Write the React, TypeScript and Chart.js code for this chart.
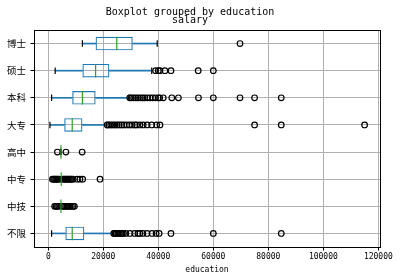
import React, { useEffect, useRef } from "react";
import { Chart, registerables } from "chart.js";

Chart.register(...registerables);

const categories = ["博士", "硕士", "本科", "大专", "高中", "中专", "中技", "不限"];
const whiskerLow = [12400, 2500, 1200, 600, 4600, 4700, 4600, 1200];
const q1 = [17200, 12400, 8700, 5800, 4600, 4700, 4600, 6200];
const median = [24900, 17200, 12400, 8700, 4600, 4700, 4600, 8700];
const q3 = [30700, 22200, 17200, 12400, 4600, 4700, 4600, 13100];
const whiskerHigh = [39600, 37600, 29400, 21200, 4600, 4700, 4600, 23600];
const outliers: number[][] = [
  [69700],
  [39000, 40000, 40600, 42400, 44600, 54500, 60000],
  [29600, 30200, 31000, 31800, 32600, 33500, 34300, 35000, 36000, 37000, 38000, 39000, 40000, 40500, 41800, 44900, 47300, 54600, 60000, 69700, 75000, 84700],
  [21400, 22000, 22700, 23400, 24200, 25000, 25800, 26700, 27500, 28500, 29500, 30500, 31500, 32100, 33300, 34500, 35900, 37600, 39400, 40600, 75000, 84700, 115000],
  [3300, 6400, 12300],
  [1500, 1900, 2300, 2700, 3100, 3500, 3900, 5300, 5700, 6100, 6500, 6900, 7300, 7700, 8100, 8500, 9000, 10500, 11500, 12500, 18800],
  [2300, 2800, 3300, 3800, 5300, 5800, 6300, 6800, 7300, 7800, 8400, 9000, 9500],
  [23800, 24300, 24800, 25300, 25800, 26300, 26800, 27300, 28200, 29700, 31400, 32600, 33300, 34400, 35900, 37700, 39200, 40300, 44600, 60000, 84700],
];
const xTicks = [0, 20000, 40000, 60000, 80000, 100000, 120000];
const xMin = -5200;
const xMax = 120600;

const MONO = '"DejaVu Sans Mono", monospace';
const CJK = '"Noto Sans CJK SC", sans-serif';
const BLUE = "#1f77b4";
const GREEN = "#2ca02c";
const GRID = "#b0b0b0";

const frame = {
  id: "frame",
  afterDatasetsDraw(chart: any) {
    const { ctx, chartArea } = chart;
    ctx.save();
    ctx.strokeStyle = "#000";
    ctx.lineWidth = 1;
    ctx.strokeRect(
      Math.round(chartArea.left) + 0.5,
      Math.round(chartArea.top) + 0.5,
      Math.round(chartArea.right - chartArea.left),
      Math.round(chartArea.bottom - chartArea.top)
    );
    ctx.restore();
  },
};

export default function App() {
  const ref = useRef<HTMLCanvasElement>(null);

  useEffect(() => {
    if (!ref.current) return;
    const fliers: { x: number; y: string }[] = [];
    outliers.forEach((arr, i) => arr.forEach((v) => fliers.push({ x: v, y: categories[i] })));

    const chart = new Chart(ref.current, {
      type: "bar",
      data: {
        labels: categories,
        datasets: [
          {
            type: "scatter",
            label: "medians",
            data: categories.map((c, i) => ({ x: median[i], y: c })),
            pointStyle: "line",
            rotation: 90,
            pointRadius: 6.7,
            borderColor: GREEN,
            borderWidth: 1.2,
            order: 0,
          } as any,
          {
            type: "scatter",
            label: "fliers",
            data: fliers,
            pointStyle: "circle",
            pointRadius: 2.8,
            borderColor: "#000",
            backgroundColor: "rgba(0,0,0,0)",
            borderWidth: 1.2,
            order: 1,
          } as any,
          {
            type: "scatter",
            label: "capsLow",
            data: categories.map((c, i) => ({ x: whiskerLow[i], y: c })),
            pointStyle: "line",
            rotation: 90,
            pointRadius: 3.3,
            borderColor: "#000",
            borderWidth: 1.2,
            order: 2,
          } as any,
          {
            type: "scatter",
            label: "capsHigh",
            data: categories.map((c, i) => ({ x: whiskerHigh[i], y: c })),
            pointStyle: "line",
            rotation: 90,
            pointRadius: 3.3,
            borderColor: "#000",
            borderWidth: 1.2,
            order: 2,
          } as any,
          {
            label: "boxes",
            data: categories.map((_, i) => [q1[i], q3[i]]),
            grouped: false,
            barPercentage: 0.5,
            categoryPercentage: 1,
            backgroundColor: "rgba(0,0,0,0)",
            borderColor: BLUE,
            borderWidth: 1.2,
            borderSkipped: false,
            order: 3,
          } as any,
          {
            label: "whiskersLow",
            data: categories.map((_, i) => [whiskerLow[i], q1[i]]),
            grouped: false,
            barThickness: 1,
            backgroundColor: BLUE,
            borderWidth: 0,
            order: 4,
          } as any,
          {
            label: "whiskersHigh",
            data: categories.map((_, i) => [q3[i], whiskerHigh[i]]),
            grouped: false,
            barThickness: 1,
            backgroundColor: BLUE,
            borderWidth: 0,
            order: 4,
          } as any,
        ],
      },
      options: {
        indexAxis: "y",
        responsive: false,
        animation: false,
        events: [],
        layout: { padding: { left: 0, right: 20, top: 0, bottom: 0 } },
        plugins: {
          legend: { display: false },
          tooltip: { enabled: false },
          title: {
            display: true,
            text: "Boxplot grouped by education",
            color: "#000",
            font: { family: MONO, size: 10, weight: "normal", lineHeight: 0.8 },
            padding: { top: 8.7, bottom: 0 },
          },
          subtitle: {
            display: true,
            text: "salary",
            color: "#000",
            font: { family: MONO, size: 10, weight: "normal", lineHeight: 0.8 },
            padding: { top: 0, bottom: 5.3 },
          },
        },
        scales: {
          x: {
            type: "linear",
            min: xMin,
            max: xMax,
            afterBuildTicks: (scale: any) => {
              scale.ticks = xTicks.map((v) => ({ value: v }));
            },
            afterFit: (scale: any) => {
              scale.height = 33;
            },
            ticks: {
              color: "#000",
              font: { family: MONO, size: 8 },
              padding: 2,
              maxRotation: 0,
              autoSkip: false,
              callback: (v: any) => String(v),
            },
            grid: {
              color: GRID,
              lineWidth: 1,
              tickColor: "#000",
              tickLength: 3.5,
            },
            border: { color: "#000", width: 1 },
            title: {
              display: true,
              text: "education",
              color: "#000",
              font: { family: MONO, size: 8, lineHeight: 1.2 },
              padding: { top: 0, bottom: 5 },
            },
          },
          y: {
            type: "category",
            offset: true,
            afterFit: (scale: any) => {
              scale.width = 34;
            },
            ticks: {
              color: "#000",
              font: { family: CJK, size: 9.5 },
              padding: 4.5,
            },
            grid: {
              offset: false,
              color: GRID,
              lineWidth: 1,
              tickColor: "#000",
              tickLength: 3.5,
            },
            border: { color: "#000", width: 1 },
          },
        },
      } as any,
      plugins: [frame],
    });
    return () => chart.destroy();
  }, []);

  return (
    <div style={{ position: "fixed", left: 0, top: 0, width: 400, height: 280, background: "#fff" }}>
      <canvas ref={ref} width={400} height={280} style={{ display: "block" }} />
    </div>
  );
}
